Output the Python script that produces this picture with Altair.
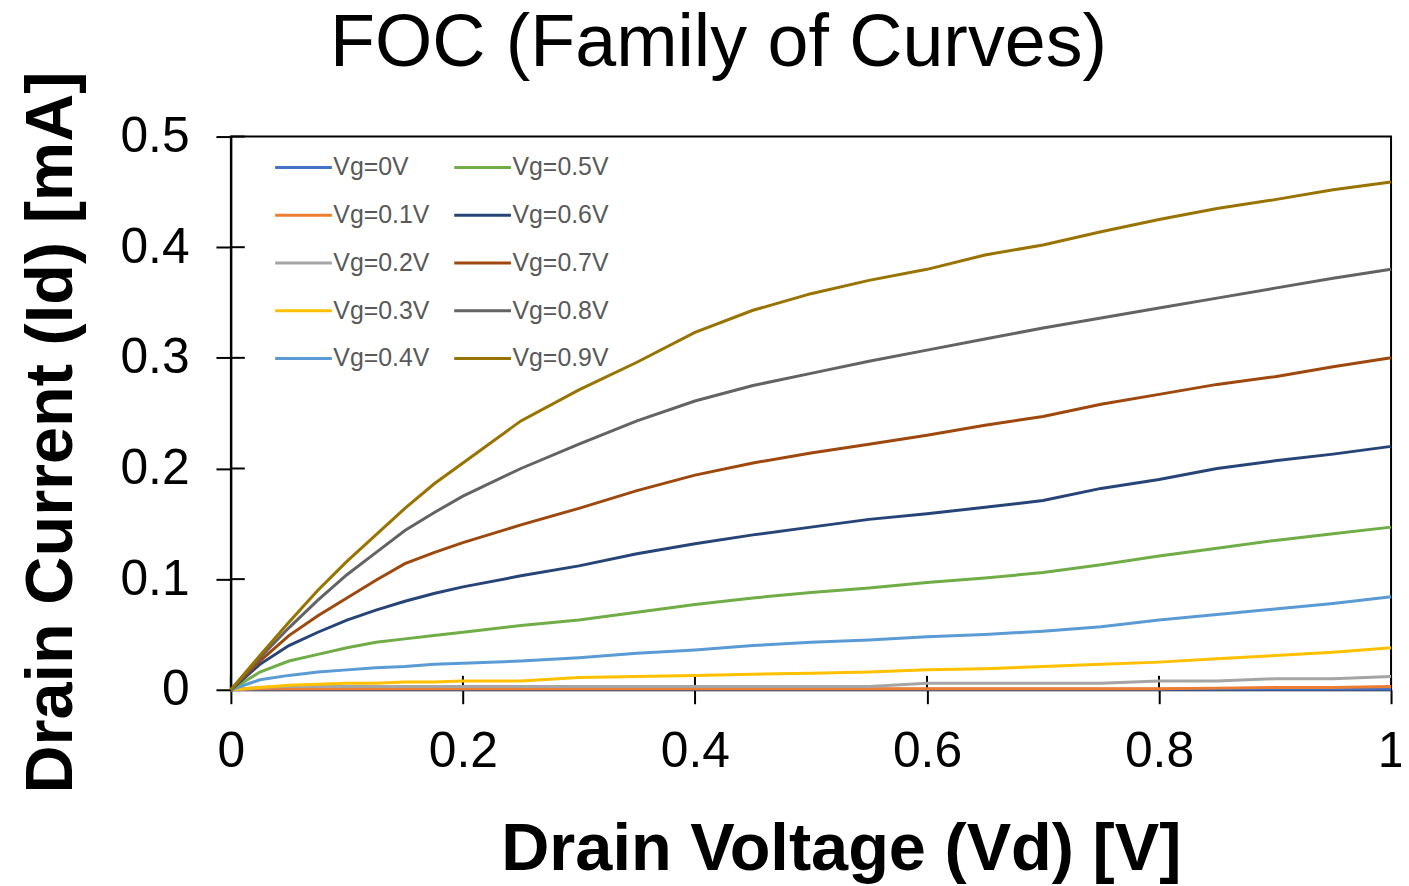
import altair as alt
import pandas as pd

# Drain voltage sample points [V]
vd = [0, 0.025, 0.05, 0.075, 0.1, 0.125, 0.15, 0.175, 0.2, 0.25, 0.3, 0.35, 0.4,
      0.45, 0.5, 0.55, 0.6, 0.65, 0.7, 0.75, 0.8, 0.85, 0.9, 0.95, 1.0]

# Drain current [mA] for each gate voltage
id_vg00 = [0, 0.0005, 0.0005, 0.0005, 0.0005, 0.0005, 0.0005, 0.0005, 0.0005, 0.0005, 0.0005, 0.0005, 0.0005,
           0.0005, 0.0005, 0.0005, 0.0005, 0.0005, 0.0005, 0.0005, 0.0005, 0.0005, 0.0005, 0.0005, 0.0005]
id_vg01 = [0, 0.001, 0.001, 0.001, 0.001, 0.001, 0.001, 0.001, 0.001, 0.001, 0.001, 0.001, 0.001,
           0.001, 0.001, 0.001, 0.001, 0.001, 0.001, 0.001, 0.001, 0.0015, 0.002, 0.002, 0.003]
id_vg02 = [0, 0.002, 0.003, 0.003, 0.003, 0.003, 0.003, 0.003, 0.003, 0.003, 0.003, 0.003, 0.003,
           0.003, 0.003, 0.003, 0.006, 0.006, 0.006, 0.006, 0.008, 0.008, 0.010, 0.010, 0.012]
id_vg03 = [0, 0.002, 0.004, 0.005, 0.006, 0.006, 0.007, 0.007, 0.008, 0.008, 0.011, 0.012, 0.013,
           0.014, 0.015, 0.016, 0.018, 0.019, 0.021, 0.023, 0.025, 0.028, 0.031, 0.034, 0.038]
id_vg04 = [0, 0.009, 0.013, 0.016, 0.018, 0.020, 0.021, 0.023, 0.024, 0.026, 0.029, 0.033, 0.036,
           0.040, 0.043, 0.045, 0.048, 0.050, 0.053, 0.057, 0.063, 0.068, 0.073, 0.078, 0.084]
id_vg05 = [0, 0.016, 0.026, 0.032, 0.038, 0.043, 0.046, 0.049, 0.052, 0.058, 0.063, 0.070, 0.077,
           0.083, 0.088, 0.092, 0.097, 0.101, 0.106, 0.113, 0.121, 0.128, 0.135, 0.141, 0.147]
id_vg06 = [0, 0.023, 0.040, 0.052, 0.063, 0.072, 0.080, 0.087, 0.093, 0.103, 0.112, 0.123, 0.132,
           0.140, 0.147, 0.154, 0.159, 0.165, 0.171, 0.182, 0.190, 0.200, 0.207, 0.213, 0.220]
id_vg07 = [0, 0.026, 0.049, 0.067, 0.083, 0.099, 0.114, 0.124, 0.133, 0.149, 0.164, 0.180, 0.194,
           0.205, 0.214, 0.222, 0.230, 0.239, 0.247, 0.258, 0.267, 0.276, 0.283, 0.292, 0.300]
id_vg08 = [0, 0.029, 0.056, 0.081, 0.104, 0.124, 0.144, 0.160, 0.175, 0.200, 0.222, 0.243, 0.261,
           0.275, 0.286, 0.297, 0.307, 0.317, 0.327, 0.336, 0.345, 0.354, 0.363, 0.372, 0.380]
id_vg09 = [0, 0.031, 0.061, 0.090, 0.116, 0.140, 0.164, 0.186, 0.205, 0.243, 0.271, 0.296, 0.323,
           0.343, 0.358, 0.370, 0.380, 0.393, 0.402, 0.414, 0.425, 0.435, 0.443, 0.452, 0.459]

series_names = ["Vg=0V", "Vg=0.1V", "Vg=0.2V", "Vg=0.3V", "Vg=0.4V",
                "Vg=0.5V", "Vg=0.6V", "Vg=0.7V", "Vg=0.8V", "Vg=0.9V"]
series_values = [id_vg00, id_vg01, id_vg02, id_vg03, id_vg04,
                 id_vg05, id_vg06, id_vg07, id_vg08, id_vg09]
series_colors = ["#4472C4", "#ED7D31", "#A5A5A5", "#FFC000", "#5B9BD5",
                 "#70AD47", "#264478", "#9E480E", "#636363", "#997300"]

y_ticks = [0, 0.1, 0.2, 0.3, 0.4, 0.5]
x_ticks = [0, 0.2, 0.4, 0.6, 0.8, 1.0]

chart_title = "FOC (Family of Curves)"

rows = []
for name, vals in zip(series_names, series_values):
    for v, i in zip(vd, vals):
        rows.append({"Vd": v, "Id": i, "Vg": name})
df = pd.DataFrame(rows)

W, H = 1166, 556
FONT = "Liberation Sans"

xscale = alt.Scale(domain=[0, 1], nice=False, zero=False)
yscale = alt.Scale(domain=[0, 0.5], nice=False)

x_enc = alt.X("Vd:Q", scale=xscale, axis=alt.Axis(
    values=x_ticks, format="~g", title="Drain Voltage (Vd) [V]",
    grid=False, domainColor="black", domainWidth=2, tickColor="black", tickWidth=2,
    tickSize=14, labelPadding=23, labelFontSize=50, labelFont=FONT, labelColor="black",
    labelFlush=False,
    titleFont=FONT, titleFontSize=67, titleFontWeight="bold", titleColor="black",
    titleX=613, titleY=181, titleBaseline="alphabetic", titleAlign="center"))
y_enc = alt.Y("Id:Q", scale=yscale, axis=alt.Axis(
    values=y_ticks, format="~g", title="Drain Current (Id) [mA]",
    grid=False, domainColor="black", domainWidth=2, tickColor="black", tickWidth=2,
    tickSize=15, labelPadding=27, labelFontSize=50, labelFont=FONT, labelColor="black",
    titleFont=FONT, titleFontSize=67, titleFontWeight="bold", titleColor="black",
    titleX=-160, titleY=297, titleBaseline="alphabetic", titleAlign="center", titleAngle=-90))

color_enc = alt.Color("Vg:N", scale=alt.Scale(domain=series_names, range=series_colors),
                      legend=alt.Legend(orient="none", legendX=43, legendY=1, columns=2, title=None,
                                        symbolType="stroke", symbolSize=3249, symbolStrokeWidth=3,
                                        labelFontSize=25, labelColor="#595959", labelFont=FONT,
                                        columnPadding=18, rowPadding=5, labelOffset=0, padding=0))

layers = []
for name in series_names:
    layers.append(
        alt.Chart(df).transform_filter(alt.datum.Vg == name)
        .mark_line(strokeWidth=3)
        .encode(x=x_enc, y=y_enc, color=color_enc, order="Vd:Q")
    )

ytick_df = pd.DataFrame({"t": y_ticks})
xtick_df = pd.DataFrame({"t": x_ticks})
inner_y = alt.Chart(ytick_df).mark_rule(color="black", strokeWidth=2).encode(
    y=alt.Y("t:Q", scale=yscale), x=alt.value(0), x2=alt.value(14))
inner_x = alt.Chart(xtick_df).mark_rule(color="black", strokeWidth=2).encode(
    x=alt.X("t:Q", scale=xscale), y=alt.value(H - 14), y2=alt.value(H))

# chart title drawn as a text mark above the plot area
title_df = pd.DataFrame({"label": [chart_title]})
title_mark = alt.Chart(title_df).mark_text(
    font=FONT, fontSize=74, color="black", align="center", baseline="alphabetic"
).encode(text="label:N", x=alt.value(490), y=alt.value(-71))

chart = alt.layer(inner_y, inner_x, *layers, title_mark).properties(
    width=W, height=H,
    background="white",
    autosize=alt.AutoSizeParams(type="none"),
    padding={"left": 224, "top": 127, "right": 10, "bottom": 195},
).configure_view(stroke="black", strokeWidth=2)

chart.save("out.html", embed_options={"renderer": "svg", "actions": False})
